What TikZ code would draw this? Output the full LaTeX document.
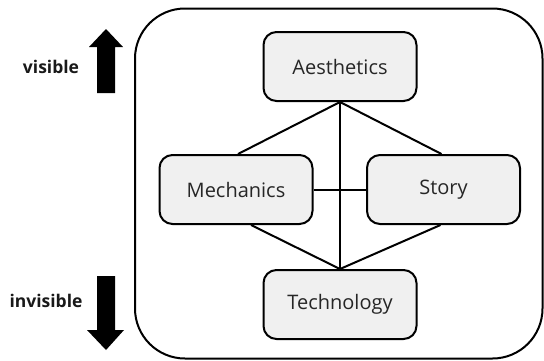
\documentclass[tikz,border=0pt]{standalone}
\usepackage{fontspec}
\setmainfont{Open Sans}
\usetikzlibrary{calc}

\definecolor{boxgray}{HTML}{F0F0F0}
\tikzset{
  layer/.style={draw=black, line width=2pt, fill=boxgray, rounded corners=13pt,
    minimum width=153pt, minimum height=69pt, inner sep=0pt,
    font=\fontsize{20}{24}\selectfont, text=black!85},
  link/.style={draw=black, line width=2pt},
  side/.style={font=\bfseries\fontsize{17.5}{21}\selectfont, text=black!90},
}

\begin{document}
\begin{tikzpicture}[x=1pt, y=-1pt]
  \useasboundingbox (0,0) rectangle (544,360);

  % frame around the four layers
  \draw[line width=2pt, rounded corners=50pt] (135,8.5) rectangle (542.5,358.5);

  % layers
  \node[layer] (aes)   at (340,66.5)  {Aesthetics};
  \node[layer] (mech)  at (236,189.5) {Mechanics};
  \node[layer] (story) at (443.5,189.5) {Story};
  \node[layer] (tech)  at (340,304.5) {Technology};

  % connections between the layers
  \draw[link] (aes.south) -- ([xshift=2pt]mech.north);
  \draw[link] (aes.south) -- ([xshift=-2pt]story.north);
  \draw[link] (aes.south) -- (tech.north);
  \draw[link] ([xshift=15pt]mech.south) -- (tech.north);
  \draw[link] ([xshift=-3pt]story.south) -- (tech.north);
  \draw[link] (mech.east) -- (story.west);

  % visibility arrows
  \fill (97,93) -- (97,47) -- (89,47) -- (106,29) -- (123,47) -- (115,47) -- (115,93) -- cycle;
  \fill (97,276) -- (97,330) -- (87,330) -- (106,350) -- (124,330) -- (115,330) -- (115,276) -- cycle;

  \node[side] (vis)   at (51,67)  {visible};
  \node[side] (invis) at (46,301) {invisible};
\end{tikzpicture}
\end{document}
